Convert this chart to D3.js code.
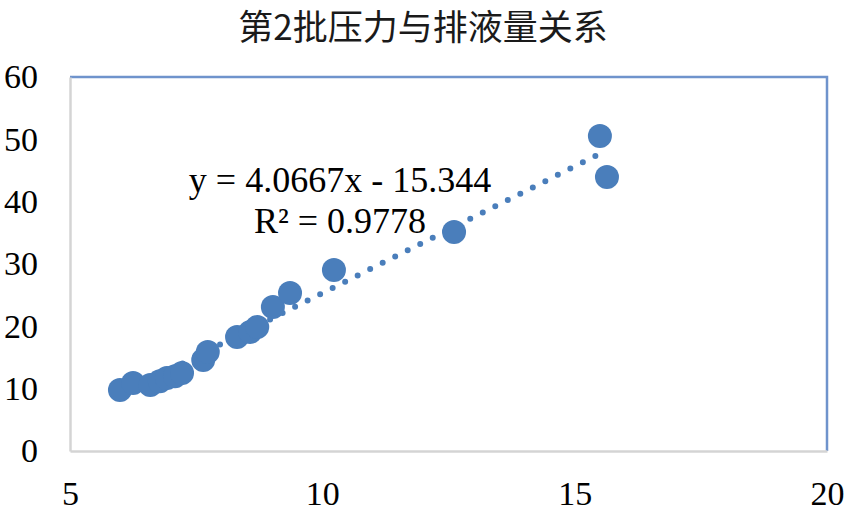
<!DOCTYPE html>
<html><head><meta charset="utf-8">
<script src="https://cdn.jsdelivr.net/npm/d3@7"></script>
<style>body{margin:0;background:#fff;}svg{display:block;}</style>
</head><body>
<script>
const title = "第2批压力与排液量关系";
const xValues = [5.99, 6.25, 6.59, 6.78, 6.92, 7.08, 7.22, 7.64, 7.73, 8.31, 8.57, 8.71, 9.02, 9.36, 10.23, 12.61, 15.50, 15.64];
const yValues = [9.79, 10.91, 10.59, 11.2, 11.71, 12.0, 12.51, 14.60, 15.88, 18.29, 19.09, 19.89, 23.10, 25.35, 29.04, 35.14, 50.54, 43.96];
const xTicks = [5, 10, 15, 20];
const yTicks = [0, 10, 20, 30, 40, 50, 60];
const slope = 4.0667, intercept = -15.344;
const eqLines = ["y = 4.0667x - 15.344", "R² = 0.9778"];

const W = 848, H = 511;
const m = {left: 70, right: 21, top: 77, bottom: 60};
const svg = d3.select("body").append("svg").attr("width", W).attr("height", H);
const x = d3.scaleLinear().domain([5, 20]).range([m.left, W - m.right]);
const y = d3.scaleLinear().domain([0, 60]).range([H - m.bottom, m.top]);

// plot border: top/right blue
svg.append("path")
  .attr("d", `M${x(5)},${y(60)}H${x(20)}V${y(0)}`)
  .attr("fill", "none").attr("stroke", "#6f93cc").attr("stroke-width", 2.5);

// axes (gray)
const xAxis = svg.append("g").attr("transform", `translate(0,${y(0)})`)
  .call(d3.axisBottom(x).tickValues(xTicks).tickSize(0).tickPadding(30).tickFormat(d3.format("d")));
const yAxis = svg.append("g").attr("transform", `translate(${x(5)},0)`)
  .call(d3.axisLeft(y).tickValues(yTicks).tickSize(0).tickPadding(32).tickFormat(d3.format("d")));
[xAxis, yAxis].forEach(g => {
  g.select(".domain").attr("stroke", "#d4d4d4").attr("stroke-width", 2.5);
  g.selectAll("text").attr("font-family", "'Liberation Serif','Times New Roman',serif")
    .attr("font-size", 34).attr("fill", "#000");
});
xAxis.selectAll("text").attr("dy", "0.71em");

// trendline
const xmin = d3.min(xValues), xmax = d3.max(xValues);
svg.append("line")
  .attr("x1", x(xmin)).attr("y1", y(slope * xmin + intercept))
  .attr("x2", x(xmax)).attr("y2", y(slope * xmax + intercept))
  .attr("stroke", "#4a7ebb").attr("stroke-width", 6)
  .attr("stroke-linecap", "round").attr("stroke-dasharray", "0 14");

// points
svg.append("g").selectAll("circle").data(xValues.map((v, i) => [v, yValues[i]]))
  .join("circle")
  .attr("cx", d => x(d[0])).attr("cy", d => y(d[1])).attr("r", 12)
  .attr("fill", "#4a7ebb");

// equation
svg.append("g").selectAll("text").data(eqLines).join("text")
  .attr("x", 340).attr("y", (d, i) => 192 + i * 41)
  .attr("text-anchor", "middle")
  .attr("font-family", "'Liberation Serif','Times New Roman',serif")
  .attr("font-size", 36).attr("fill", "#000")
  .text(d => d);

// title
svg.append("text").attr("x", 423).attr("y", 40)
  .attr("text-anchor", "middle")
  .attr("font-family", "'Noto Sans CJK SC','Noto Sans',sans-serif")
  .attr("font-size", 35).attr("fill", "#1a1a1a")
  .text(title);
</script>
</body></html>
